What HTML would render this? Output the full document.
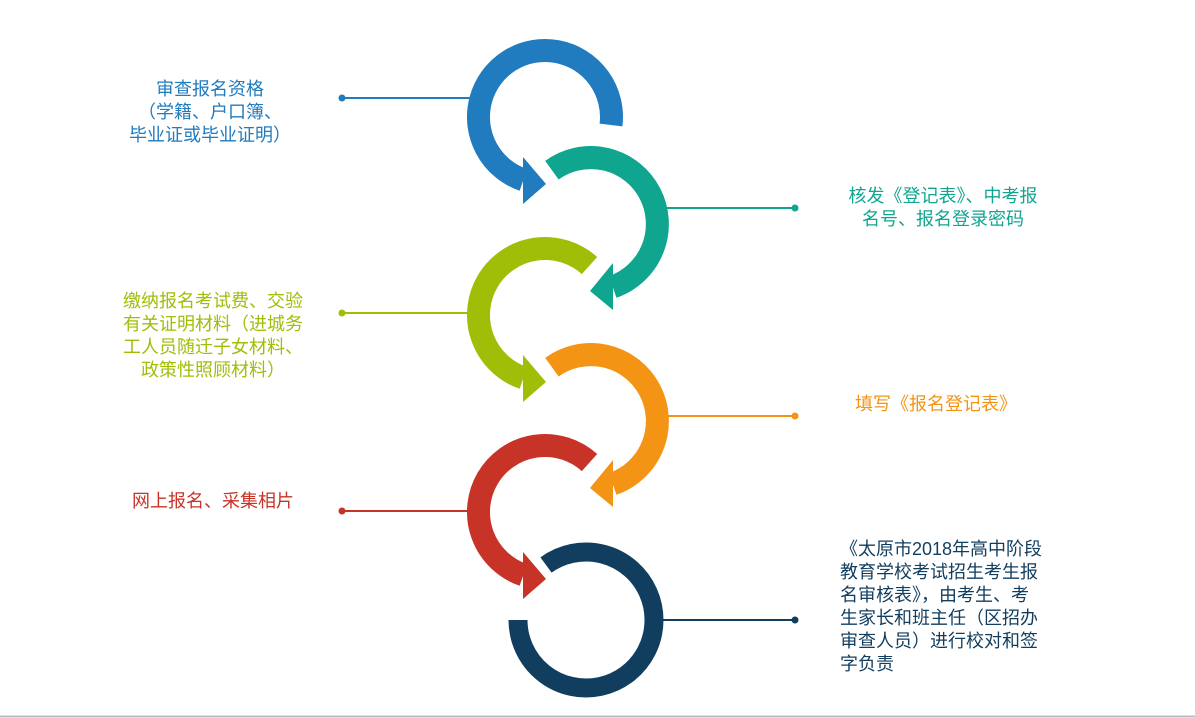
<!DOCTYPE html>
<html><head><meta charset="utf-8"><style>
html,body{margin:0;padding:0;background:#fff;}
body{width:1195px;height:718px;position:relative;overflow:hidden;font-family:"Liberation Sans","Noto Sans CJK SC",sans-serif;}
.t{position:absolute;font-size:18px;line-height:23px;white-space:nowrap;}
.c{text-align:center;}
</style></head><body>
<svg width="1195" height="718" style="position:absolute;left:0;top:0">
<g fill="none" stroke-width="2">
<line x1="342" y1="98" x2="472" y2="98" stroke="#217bbf"/>
<line x1="666" y1="208" x2="795" y2="208" stroke="#10a58f"/>
<line x1="342" y1="313" x2="470" y2="313" stroke="#a0be07"/>
<line x1="666" y1="416" x2="795" y2="416" stroke="#f39415"/>
<line x1="342" y1="511" x2="470" y2="511" stroke="#c83327"/>
<line x1="662" y1="620" x2="795" y2="620" stroke="#113d5e"/>
</g>
<circle cx="342" cy="98" r="3.5" fill="#217bbf"/>
<circle cx="795" cy="208" r="3.5" fill="#10a58f"/>
<circle cx="342" cy="313" r="3.5" fill="#a0be07"/>
<circle cx="795" cy="416" r="3.5" fill="#f39415"/>
<circle cx="342" cy="511" r="3.5" fill="#c83327"/>
<circle cx="795" cy="620" r="3.5" fill="#113d5e"/>
<g fill="none" stroke-width="23">
<path d="M611,125 A66.5,66.5 0 1 0 523.4,179.9" stroke="#217bbf"/>
<path d="M551.9,170.2 A66.5,66.5 0 1 1 612.7,286.9" stroke="#10a58f"/>
<path d="M589.5,265.6 A66.5,66.5 0 1 0 523.4,377.9" stroke="#a0be07"/>
<path d="M551.9,367.2 A66.5,66.5 0 1 1 612.7,483.9" stroke="#f39415"/>
<path d="M589.5,462.6 A66.5,66.5 0 1 0 523.4,574.9" stroke="#c83327"/>
<path d="M518,620 A68,68 0 1 0 546,565" stroke="#113d5e" stroke-width="19"/>
</g>
<polygon points="523,157 523,204 546,184" fill="#217bbf"/>
<polygon points="613,263 613,310 590,291" fill="#10a58f"/>
<polygon points="523,355 523,402 546,382" fill="#a0be07"/>
<polygon points="613,460 613,507 590,488" fill="#f39415"/>
<polygon points="523,552 523,599 546,579" fill="#c83327"/>
<line x1="0" y1="716.5" x2="1195" y2="716.5" stroke="#b8bcc4" stroke-width="2"/>
</svg>
<div class="t c" style="left:100px;width:220px;top:78px;color:#217bbf">审查报名资格<br>（学籍、户口簿、<br>毕业证或毕业证明）</div>
<div class="t c" style="left:833px;width:220px;top:185px;color:#10a58f">核发《登记表》、中考报<br>名号、报名登录密码</div>
<div class="t c" style="left:103px;width:220px;top:290px;color:#a0be07">缴纳报名考试费、交验<br>有关证明材料（进城务<br>工人员随迁子女材料、<br>政策性照顾材料）</div>
<div class="t c" style="left:826px;width:220px;top:393px;color:#f39415">填写《报名登记表》</div>
<div class="t c" style="left:103px;width:220px;top:490px;color:#c83327">网上报名、采集相片</div>
<div class="t" style="left:840px;top:538px;color:#113d5e">《太原市2018年高中阶段<br>教育学校考试招生考生报<br>名审核表》，由考生、考<br>生家长和班主任（区招办<br>审查人员）进行校对和签<br>字负责</div>
</body></html>
